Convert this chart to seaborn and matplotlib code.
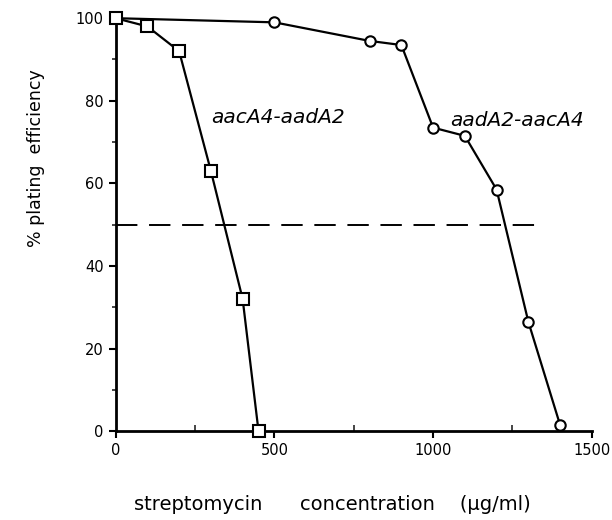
import matplotlib
matplotlib.use("Agg")
import matplotlib.pyplot as plt
from matplotlib.ticker import MultipleLocator
import seaborn as sns
import pandas as pd

# aacA4-aadA2 (squares)
sq_conc = [0, 100, 200, 300, 400, 450]
sq_eff = [100, 98, 92, 63, 32, 0]

# aadA2-aacA4 (circles)
ci_conc = [0, 500, 800, 900, 1000, 1100, 1200, 1300, 1400]
ci_eff = [100, 99, 94.5, 93.5, 73.5, 71.5, 58.5, 26.5, 1.5]

cutoff = 50

sns.set_style("ticks")
plt.rcParams["font.family"] = ["DejaVu Sans"]
plt.rcParams["text.color"] = "black"
plt.rcParams["axes.labelcolor"] = "black"

fig = plt.figure(figsize=(6.12, 5.2), dpi=100)
ax = fig.add_axes([0.189, 0.171, 0.778, 0.794])

df_sq = pd.DataFrame({"conc": sq_conc, "eff": sq_eff})
df_ci = pd.DataFrame({"conc": ci_conc, "eff": ci_eff})

sns.lineplot(data=df_ci, x="conc", y="eff", ax=ax, color="black", lw=1.6,
             marker="o", markersize=7.5, markerfacecolor="white",
             markeredgecolor="black", markeredgewidth=1.5, clip_on=False, zorder=3)
sns.lineplot(data=df_sq, x="conc", y="eff", ax=ax, color="black", lw=1.6,
             marker="s", markersize=8, markerfacecolor="white",
             markeredgecolor="black", markeredgewidth=1.5, clip_on=False, zorder=4)

# 50% reference line
ax.plot([0, 1320], [cutoff, cutoff], color="black", lw=1.4, dashes=(11, 6))

ax.text(300, 76, "aacA4-aadA2", style="italic", fontsize=14.5, va="center")
ax.text(1055, 75.2, "aadA2-aacA4", style="italic", fontsize=14.5, va="center")

ax.set_xlim(0, 1500)
ax.set_ylim(0, 100)
ax.xaxis.set_major_locator(MultipleLocator(500))
ax.xaxis.set_minor_locator(MultipleLocator(250))
ax.yaxis.set_major_locator(MultipleLocator(20))
ax.yaxis.set_minor_locator(MultipleLocator(10))
ax.tick_params(axis="both", which="major", direction="out", length=5, width=1.5,
               labelsize=10.5, colors="black")
ax.tick_params(axis="x", which="minor", direction="in", length=4, width=1.2)
ax.tick_params(axis="y", which="minor", direction="out", length=3, width=1.2)

sns.despine(ax=ax)
for s in ["left", "bottom"]:
    ax.spines[s].set_linewidth(2)
    ax.spines[s].set_color("black")

ax.set_xlabel("streptomycin      concentration    (\u00b5g/ml)", fontsize=14)
ax.set_ylabel("% plating  efficiency", fontsize=12.5)
ax.xaxis.set_label_coords(0.455, -0.155)
ax.yaxis.set_label_coords(-0.149, 0.661)

fig.savefig("out.png", dpi=100)
